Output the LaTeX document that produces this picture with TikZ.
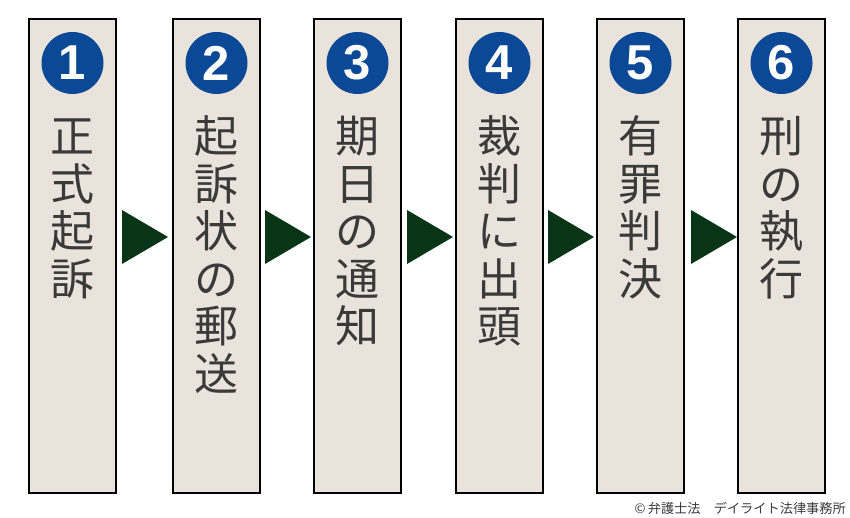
\documentclass[tikz,border=0pt]{standalone}
\usepackage{fontspec}
\newfontfamily\cjk{Noto Sans CJK JP}
\newfontfamily\numfont{Liberation Sans}
\definecolor{boxfill}{HTML}{E9E3DC}
\definecolor{navy}{HTML}{0B4895}
\definecolor{arrowgreen}{HTML}{073516}
\definecolor{txtgray}{HTML}{3A3A3A}
\tikzset{
  stepbox/.style={draw=black, line width=2pt, fill=boxfill},
  numcirc/.style={circle, fill=navy, minimum size=62pt, inner sep=0pt},
  numtxt/.style={text=white, font=\numfont\bfseries\fontsize{49}{49}\selectfont, inner sep=0pt},
  chr/.style={text=txtgray, font=\cjk\fontsize{44}{44}\selectfont, inner sep=0pt, anchor=base},
  tri/.style={fill=arrowgreen, draw=none},
  credit/.style={text=txtgray, font=\cjk\fontsize{13.2}{14}\selectfont, inner sep=0pt, anchor=east}
}
\begin{document}
\begin{tikzpicture}[x=1pt,y=-1pt]
\useasboundingbox (0,0) rectangle (850,518);
\foreach \L [count=\i] in {29,173,314,456,597,738}{
  \pgfmathsetmacro{\cx}{\L+43.5}
  \draw[stepbox] (\L,19) rectangle ++(86.5,474);
  \node[numcirc] (c\i) at (\cx,63) {};
  \node[numtxt] (n\i) at (c\i) {\i};
}
% arrows
\foreach \L [count=\i] in {122,265,407,548,691}{
  \fill[tri] (\L,210) -- (\L+46,237) -- (\L,264) -- cycle;
}
% vertical texts
\foreach \L/\txt [count=\i] in {29/{正,式,起,訴},173/{起,訴,状,の,郵,送},314/{期,日,の,通,知},456/{裁,判,に,出,頭},597/{有,罪,判,決},738/{刑,の,執,行}}{
  \pgfmathsetmacro{\cx}{\L+43.5}
  \foreach \ch [count=\j] in \txt {
    \node[chr] (t\i-\j) at (\cx,{136+47.6*(\j-1)+16.5}) {\ch};
  }
}
\node[credit] (cr) at (846,508) {©\,弁護士法　デイライト法律事務所};
\end{tikzpicture}
\end{document}
